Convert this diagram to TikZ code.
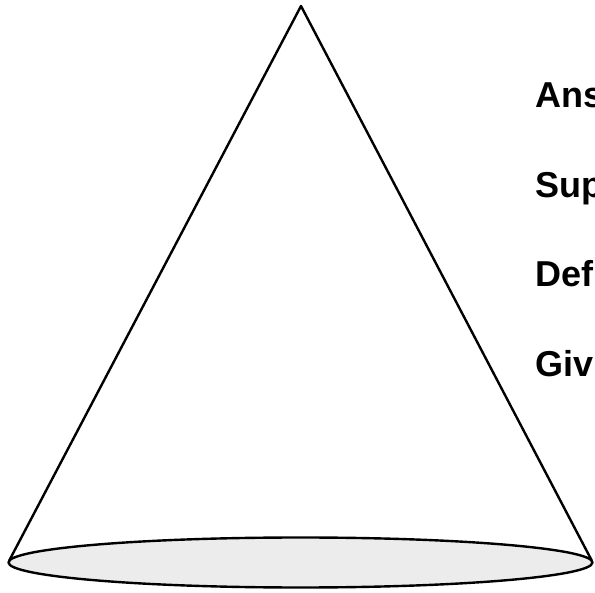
\documentclass[tikz,border=0pt]{standalone}
\usepackage{fontspec}
\setmainfont{Liberation Sans}
\begin{document}
\begin{tikzpicture}[x=1pt,y=-1pt,
  edge/.style={draw=black,line width=2.4pt,line join=round},
  lbl/.style={anchor=base west,inner sep=0pt,font=\fontsize{36}{40}\selectfont\bfseries}]
\useasboundingbox (0,0) rectangle (595,593);
\coordinate (apex) at (301,6);
\coordinate (bl) at (9,561);
\coordinate (br) at (592,561);
\draw[edge] (bl) -- (apex) -- (br);
\draw[edge,fill={rgb,255:red,236;green,236;blue,236}] (300.5,562.5) ellipse [x radius=292, y radius=25];
\node[lbl] (t1) at (535,108) {Ans};
\node[lbl] (t2) at (535,198) {Sup};
\node[lbl] (t3) at (535,287) {Def};
\node[lbl] (t4) at (535,377) {Giv};
\end{tikzpicture}
\end{document}
